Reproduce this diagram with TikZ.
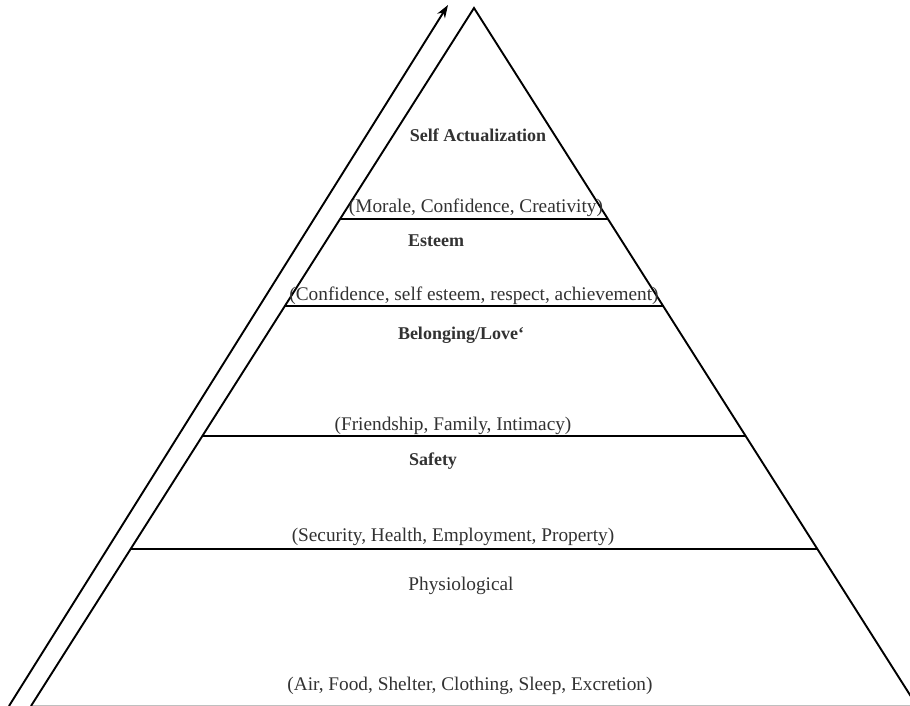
\documentclass[tikz,border=0pt]{standalone}
\usepackage{fontspec}
\setmainfont{Liberation Serif}
\usetikzlibrary{calc,arrows.meta}
\definecolor{txt}{RGB}{50,50,50}
\tikzset{
  side/.style={line width=1.9pt,black},
  level/.style={line width=1.5pt,black},
  title/.style={font=\fontsize{18}{20}\selectfont\bfseries,text=txt,inner sep=0pt,anchor=base},
  desc/.style={font=\fontsize{19.3}{22}\selectfont,text=txt,inner sep=0pt,anchor=base},
}
\begin{document}
\begin{tikzpicture}[x=1pt,y=-1pt]
\useasboundingbox (0,0) rectangle (910,706);
\clip (0,0) rectangle (910,706);
\fill[white] (0,0) rectangle (910,706);
% pyramid corners
\coordinate (A) at (474,8);
\coordinate (BL) at (31,706);
\coordinate (BR) at (917,706);
% arrow ends
\coordinate (S0) at (9,706);
\coordinate (S1) at (448,5);
% base line ends
\coordinate (G0) at (31,705.5);
\coordinate (G1) at (910,705.5);
\draw[line width=0.8pt,black!25] (G0) -- (G1);
\draw[side] (BL) -- (A) -- (BR);
\draw[side,-{Stealth[length=13pt,width=9pt]}] (S0) -- (S1);
% level lines
\foreach \y/\n in {219/a,306/b,436/c,549/d}{
  \coordinate (L\n) at ($(A)!{(\y-8)/698}!(BL)$);
  \coordinate (R\n) at ($(A)!{(\y-8)/698}!(BR)$);
  \draw[level] (L\n) -- (R\n);
}
% texts
\node[title] (t1) at (478,142) {Self Actualization};
\node[desc]  (d1) at (476,212) {(Morale, Confidence, Creativity)};
\node[title] (t2) at (436,246) {Esteem};
\node[desc]  (d2) at (474,300) {(Confidence, self esteem, respect, achievement)};
\node[title] (t3) at (461,339) {Belonging/Love{\char96}};
\node[desc]  (d3) at (453,430) {(Friendship, Family, Intimacy)};
\node[title] (t4) at (433,465) {Safety};
\node[desc]  (d4) at (453,541) {(Security, Health, Employment, Property)};
\node[desc]  (t5) at (461,590) {Physiological};
\node[desc]  (d5) at (470,690) {(Air, Food, Shelter, Clothing, Sleep, Excretion)};
\end{tikzpicture}
\end{document}
